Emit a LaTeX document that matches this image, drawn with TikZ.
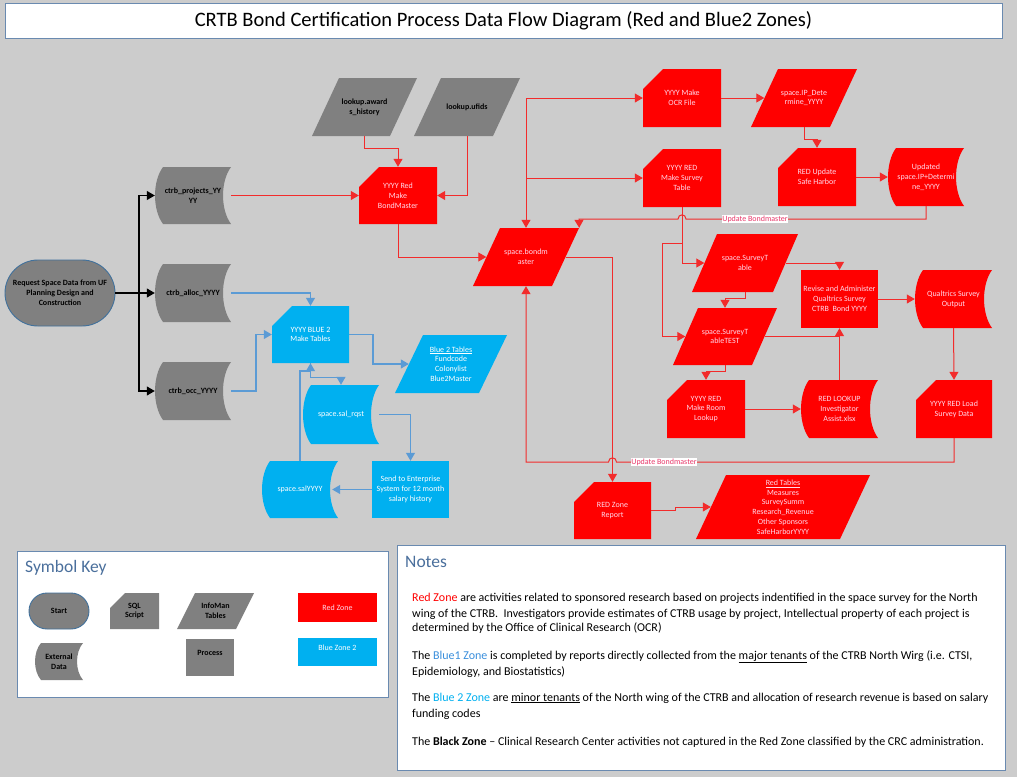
\documentclass[tikz,border=0pt]{standalone}
\usepackage{fontspec}
\setmainfont{Carlito}
\usetikzlibrary{arrows.meta}

\definecolor{bgc}{HTML}{CCCCCC}
\definecolor{zred}{HTML}{FF0000}
\definecolor{zblue}{HTML}{00B0F0}
\definecolor{zgray}{HTML}{808080}
\definecolor{rtext}{HTML}{FFD8EA}
\definecolor{lnred}{HTML}{F22B2B}
\definecolor{lnblue}{HTML}{5B9BD5}
\definecolor{edgeblue}{HTML}{41719C}
\definecolor{framec}{HTML}{6A8AB0}
\definecolor{headc}{HTML}{4A6F9C}
\definecolor{blueone}{HTML}{3A8FDC}
\definecolor{hopc}{HTML}{E8386A}

% process / script card: rectangle with the top-left corner cut off
\newcommand\cutbox[8]{%
  \fill[#7] ({#2-#4/2+#6},{#3-#5/2}) -- ({#2+#4/2},{#3-#5/2}) -- ({#2+#4/2},{#3+#5/2})
    -- ({#2-#4/2},{#3+#5/2}) -- ({#2-#4/2},{#3-#5/2+#6}) -- cycle;
  \node[#7 text, minimum width=#4, minimum height=#5] (#1) at (#2,#3) {#8};}
% data table: parallelogram leaning right
\newcommand\slantbox[8]{%
  \fill[#7] ({#2-#4/2},{#3+#5/2}) -- ({#2-#4/2+#6},{#3-#5/2}) -- ({#2+#4/2},{#3-#5/2})
    -- ({#2+#4/2-#6},{#3+#5/2}) -- cycle;
  \node[#7 text, minimum width=#4, minimum height=#5] (#1) at (#2,#3) {#8};}
% stored / external data: both sides bowed to the left
\newcommand\storebox[8]{%
  \fill[#7] ({#2-#4/2+#6},{#3-#5/2}) -- ({#2+#4/2},{#3-#5/2})
    .. controls ({#2+#4/2-1.33*#6},{#3-#5/4}) and ({#2+#4/2-1.33*#6},{#3+#5/4}) .. ({#2+#4/2},{#3+#5/2})
    -- ({#2-#4/2+#6},{#3+#5/2})
    .. controls ({#2-#4/2-0.33*#6},{#3+#5/4}) and ({#2-#4/2-0.33*#6},{#3-#5/4}) .. ({#2-#4/2+#6},{#3-#5/2})
    -- cycle;
  \node[#7 text, minimum width=#4, minimum height=#5] (#1) at (#2,#3) {#8};}
% plain process rectangle
\newcommand\procbox[7]{%
  \node[#6, #6 text, minimum width=#4, minimum height=#5] (#1) at (#2,#3) {#7};}

\begin{document}
\begin{tikzpicture}[x=1pt,y=-1pt,
  txt/.style={font=\fontsize{8}{9.8}\selectfont, align=center, inner sep=0pt},
  zr/.style={fill=zred}, zr text/.style={txt, text=rtext},
  zb/.style={fill=zblue}, zb text/.style={txt, text=white},
  zg/.style={fill=zgray}, zg text/.style={txt, text=black, font=\fontsize{8}{9.8}\selectfont\bfseries},
  tip/.style={-{Triangle[length=8pt,width=9pt]}},
  rline/.style={draw=lnred, line width=1pt},
  rarrow/.style={rline, tip},
  bline/.style={draw=lnblue, line width=1.1pt},
  barrow/.style={bline, tip},
  kline/.style={draw=black, line width=1.1pt},
  karrow/.style={kline, tip},
  hoplabel/.style={fill=white, text=hopc, inner sep=0.8pt, font=\fontsize{8}{9}\selectfont},
  frame/.style={draw=framec, fill=white, line width=0.9pt, inner sep=0pt},
  head/.style={text=headc, font=\fontsize{17.5}{20}\selectfont, anchor=base west, inner sep=0pt},
  note/.style={font=\fontsize{12}{15}\selectfont, anchor=base west, inner sep=0pt},
  stadium/.style={zg, zg text, draw=edgeblue, line width=0.9pt},
]
\fill[bgc] (0,0) rectangle (1017,777);
\useasboundingbox (0,0) rectangle (1017,777);

% ---------- title ----------
\node[frame, minimum width=997, minimum height=35] (title) at (503.5,20.5)
  {\fontsize{20.5}{24}\selectfont CRTB Bond Certification Process Data Flow Diagram (Red and Blue2 Zones)};

% ---------- shapes ----------
\node[stadium, rounded corners=33, minimum width=110, minimum height=66] (start) at (60,293)
  {Request Space Data from UF\\Planning Design and\\Construction};

\storebox{proj}{193}{195.5}{76}{57}{8}{zg}{ctrb\_projects\_YY\\YY}
\storebox{alloc}{193}{293}{76}{58}{8}{zg}{ctrb\_alloc\_YYYY}
\storebox{occ}{193}{391}{76}{58}{8}{zg}{ctrb\_occ\_YYYY}

\slantbox{aw}{364.5}{107}{105}{58}{27}{zg}{lookup.award\\s\_history}
\slantbox{uf}{467}{107}{106}{58}{27}{zg}{lookup.ufids}

\cutbox{bmk}{398}{195.5}{78}{57}{20}{zr}{YYYY Red\\Make\\BondMaster}
\slantbox{bm}{526}{257}{106}{58}{27}{zr}{space.bondm\\aster}
\cutbox{ocr}{682}{98}{78}{58}{20}{zr}{YYYY Make\\OCR File}
\slantbox{ipd}{804}{98}{106}{58}{27}{zr}{space.IP\_Dete\\rmine\_YYYY}
\cutbox{mst}{682}{178}{78}{58}{20}{zr}{YYYY RED\\Make Survey\\Table}
\cutbox{sh}{817}{177}{78}{58}{20}{zr}{RED Update\\Safe Harbor}
\storebox{upd}{926}{177}{76}{58}{8}{zr}{Updated\\space.IP+Determi\\ne\_YYYY}
\slantbox{sst}{745}{263}{106}{58}{25}{zr}{space.SurveyT\\able}
\slantbox{tst}{725}{336.5}{104}{57}{25}{zr}{space.SurveyT\\ableTEST}
\procbox{rev}{839.5}{299}{77}{58}{zr}{Revise and Administer\\Qualtrics Survey\\CTRB\ \ Bond YYYY}
\storebox{qso}{953.5}{299}{77}{58}{8}{zr}{Qualtrics Survey\\Output}
\cutbox{rl}{706}{409}{78}{58}{20}{zr}{YYYY RED\\Make Room\\Lookup}
\storebox{lk}{839.5}{409}{77}{58}{8}{zr}{RED LOOKUP\\Investigator\\Assist.xlsx}
\cutbox{lsd}{954}{409}{76}{58}{20}{zr}{YYYY RED Load\\Survey Data}
\cutbox{rzr}{612.5}{510.5}{77}{57}{20}{zr}{RED Zone\\Report}
\slantbox{rt}{783}{507}{174}{64}{30}{zr}{\underline{Red Tables}\\Measures\\SurveySumm\\Research\_Revenue\\Other Sponsors\\SafeHarborYYYY}

\cutbox{bt}{310.5}{334.5}{77}{57}{20}{zb}{YYYY BLUE 2\\Make Tables}
\slantbox{b2t}{451}{364}{112}{58}{28}{zb}{\underline{Blue 2 Tables}\\Fundcode\\Colonylist\\Blue2Master}
\storebox{sr}{341}{414.5}{76}{59}{8}{zb}{space.sal\_rqst}
\procbox{se}{410.5}{489.5}{77}{57}{zb}{Send to Enterprise\\System for 12 month\\salary history}
\storebox{sy}{300}{489.5}{76}{57}{8}{zb}{space.salYYYY}

% ---------- black connectors ----------
\coordinate (kj) at (139,293);
\draw[kline] (start.east) -- (kj);
\draw[karrow] (kj) |- (proj.west);
\draw[karrow] (kj) -- (alloc.west);
\draw[karrow] (kj) |- (occ.west);

% ---------- red connectors ----------
\draw[rarrow] (proj.east) -- (bmk.west);
\draw[rarrow] (aw.south) -- ++(0,12) -| (bmk.north);
\draw[rarrow] (uf.south) |- (bmk.east);
\draw[rarrow] (bmk.south) |- ([xshift=13.5]bm.west);
\coordinate (jt) at (526,98);
\draw[rarrow] (jt) -- (ocr.west);
\draw[rarrow] (jt) -- (bm.north);
\draw[rarrow] (jt |- mst.west) -- (mst.west);
\draw[rarrow] (ocr.east) -- ([xshift=13.5]ipd.west);
\draw[rarrow] (ipd.south) -- ++(0,12) -| (sh.north);
\draw[rarrow] (sh.east) -- (upd.west);
\draw[rarrow] (mst.south) |- ([xshift=12.5]sst.west);
\coordinate (br) at (682,243);
\draw[rarrow] (br) -- (662,243) |- ([xshift=12.5]tst.west);
\draw[rarrow] (sst.south) -- ++(0,6) -| (tst.north);
\draw[rarrow] ([xshift=-12.5]sst.east) -| (rev.north);
\draw[rline] ([xshift=-12.5]tst.east) -- (rev.south |- tst.east);
\draw[rarrow] (lk.north) -- (rev.south);
\draw[rarrow] (tst.south) -- ++(0,6) -| (rl.north);
\draw[rarrow] (rl.east) -- (lk.west);
\draw[rarrow] (rev.east) -- (qso.west);
\draw[rarrow] (qso.south) -- (lsd.north);
\draw[rarrow] ([xshift=-13.5]bm.east) -| (rzr.north);
\draw[rarrow] (rzr.east) -- (675,510.5) -- (675,507) -- ([xshift=15]rt.west);
% return paths to the bond master table, hopping over crossing lines
\draw[rarrow] (upd.south) -- (926,219) -- (686,219)
  .. controls (686,213.5) and (678,213.5) .. (678,219) -- (579,219) -- (bm.north east);
\node[hoplabel] (ub1) at (755,219) {Update Bondmaster};
\draw[rarrow] (lsd.south) -- (954,462) -- (616.5,462)
  .. controls (616.5,456.5) and (608.5,456.5) .. (608.5,462) -- (526,462) -- (bm.south);
\node[hoplabel] (ub2) at (664,462) {Update Bondmaster};

% ---------- blue connectors ----------
\draw[barrow] (alloc.east) -| (bt.north);
\draw[barrow] (occ.east) -- (256,391) |- (bt.west);
\draw[barrow] (bt.east) -- (373,334.5) |- ([xshift=14]b2t.west);
\draw[barrow] (bt.south) -- ++(0,14) -| (sr.north);
\draw[barrow] (sy.north) -- (300,371) -- (310.5,371) -- (bt.south);
\draw[barrow] (sr.east) -| (se.north);
\draw[barrow] (se.west) -- ([xshift=-6]sy.east);

% ---------- symbol key ----------
\node[frame, minimum width=371, minimum height=146] (keybox) at (202.5,624) {};
\node[head] (keyhead) at (25,572) {Symbol Key};
\node[stadium, rounded corners=18, minimum width=60, minimum height=36] (kstart) at (59,611) {Start};
\cutbox{ksql}{134.5}{611}{49}{36}{15}{zg}{SQL\\Script}
\slantbox{kinfo}{215.5}{611}{77}{36}{18}{zg}{InfoMan\\Tables}
\storebox{kext}{59}{661.5}{48}{37}{6}{zg}{External\\Data}
\fill[zgray] (186,639) rectangle (234,676);
\node[zg text] (kproc) at (210,653) {Process};
\procbox{kred}{337.5}{607.5}{79}{29}{zr}{Red Zone}
\fill[zblue] (298,638) rectangle (377,666);
\node[zb text] (kblue) at (337.5,648) {Blue Zone 2};

% ---------- notes ----------
\node[frame, minimum width=608, minimum height=225] (notebox) at (701,657.5) {};
\node[head] (notehead) at (405,567) {Notes};
\node[note] (n1) at (412,601) {\textcolor{zred}{Red Zone} are activities related to sponsored research based on projects indentified in the space survey for the North};
\node[note] (n2) at (412,617) {wing of the CTRB.\ \ Investigators provide estimates of CTRB usage by project, Intellectual property of each project is};
\node[note] (n3) at (412,631) {determined by the Office of Clinical Research (OCR)};
\node[note] (n4) at (412,659) {The \textcolor{blueone}{Blue1 Zone} is completed by reports directly collected from the \underline{major tenants} of the CTRB North Wirg (i.e. CTSI,};
\node[note] (n5) at (412,675) {Epidemiology, and Biostatistics)};
\node[note] (n6) at (412,701) {The \textcolor{zblue}{Blue 2 Zone} are \underline{minor tenants} of the North wing of the CTRB and allocation of research revenue is based on salary};
\node[note] (n7) at (412,717) {funding codes};
\node[note] (n8) at (412,745) {The \textbf{Black Zone} -- Clinical Research Center activities not captured in the Red Zone classified by the CRC administration.};
\end{tikzpicture}
\end{document}
